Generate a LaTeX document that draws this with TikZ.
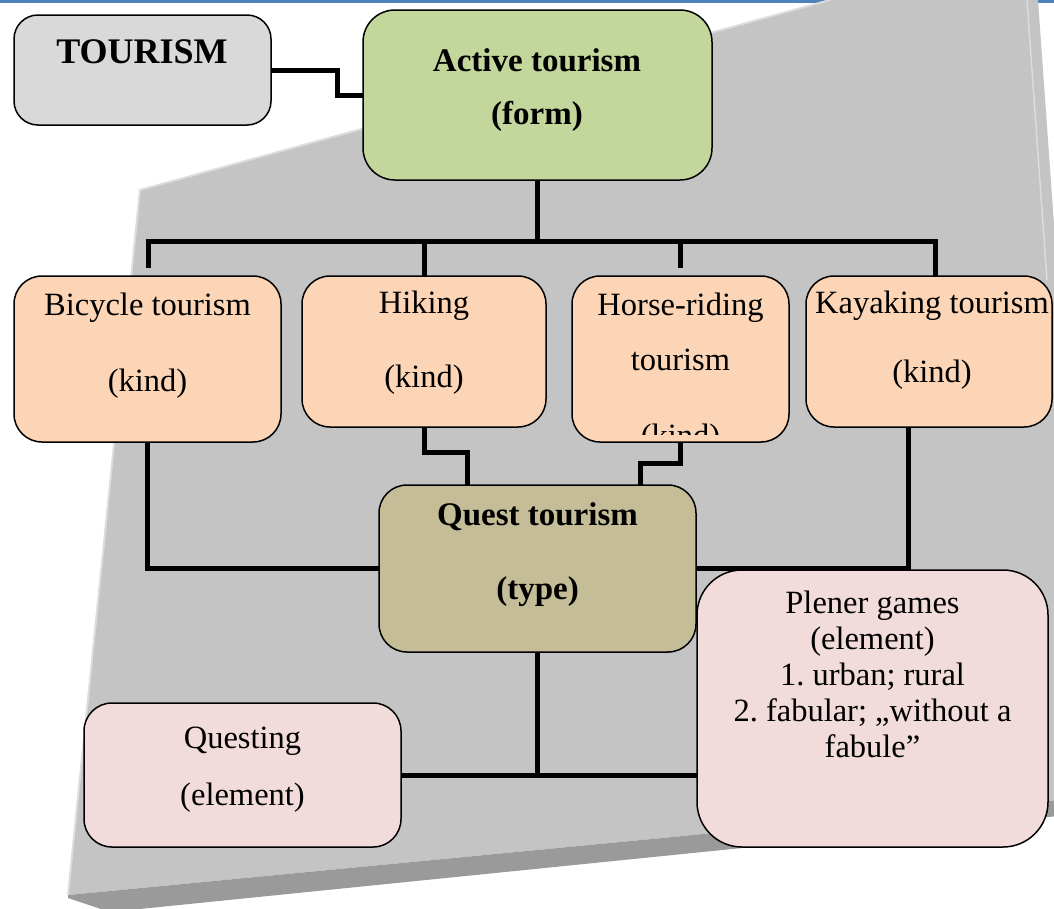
\documentclass[tikz,border=0pt]{standalone}
\usepackage{fontspec}
\setmainfont{Liberation Serif}
\frenchspacing
\definecolor{bgray}{HTML}{C4C4C4}
\definecolor{dgray}{HTML}{9A9A9A}
\definecolor{lgray}{HTML}{DCDCDC}
\definecolor{topblue}{HTML}{4F81BD}
\definecolor{cTour}{HTML}{D9D9D9}
\definecolor{cForm}{HTML}{C3D69B}
\definecolor{cKind}{HTML}{FBD5B5}
\definecolor{cType}{HTML}{C4BD97}
\definecolor{cElem}{HTML}{F2DCDB}
\pgfdeclarelayer{back}
\pgfdeclarelayer{mid}
\pgfsetlayers{back,mid,main}
\begin{document}
\begin{tikzpicture}[x=1pt,y=-1pt,
  box/.style={draw=black, line width=1.5pt, rounded corners=28pt, inner sep=0pt, outer sep=0pt},
  conn/.style={draw=black, line width=5pt, line cap=rect},
  txt/.style={inner sep=0pt, anchor=base, font=\fontsize{32.5}{36}\selectfont},
  btxt/.style={inner sep=0pt, anchor=base, font=\fontsize{33}{38}\selectfont\bfseries}]
\useasboundingbox (0,0) rectangle (1054,908);
% background
\begin{pgfonlayer}{back}
\fill[topblue] (0,0) rectangle (1054,3);
\fill[bgray] (140,190) -- (830,0) -- (1038,0) -- (1058,280) -- (1058,800) -- (68,895) -- cycle;
\fill[dgray] (68,895) -- (1058,800) -- (1058,816) -- (110,912) -- (68,898) -- cycle;
\draw[lgray, line width=2pt] (68,895) -- (140,190) -- (830,0);
\draw[lgray, line width=1.5pt] (1027,0) -- (1047,280);
\end{pgfonlayer}
% coordinates
\coordinate (busL) at (148,241);
\coordinate (busR) at (935,241);
\coordinate (d1) at (148,265);
\coordinate (d3) at (680,265);
\coordinate (qh) at (467,452);
\coordinate (qr) at (640,463);
\coordinate (kd) at (908,427);
% boxes
\path (142.5,70) node[box, fill=cTour, minimum width=257pt, minimum height=110pt, rounded corners=24pt] (tourism) {};
\path (537.5,95) node[box, fill=cForm, minimum width=349pt, minimum height=170pt, rounded corners=32pt] (active) {};
\path (147.5,359) node[box, fill=cKind, minimum width=267pt, minimum height=166pt] (bicycle) {};
\path (424,351.5) node[box, fill=cKind, minimum width=244pt, minimum height=151pt] (hiking) {};
\path (680.5,359) node[box, fill=cKind, minimum width=217pt, minimum height=166pt] (horse) {};
\path (929,351.5) node[box, fill=cKind, minimum width=246pt, minimum height=151pt] (kayak) {};
\path (537.5,568.5) node[box, fill=cType, minimum width=317pt, minimum height=167pt] (quest) {};
\path (242.5,775) node[box, fill=cElem, minimum width=317pt, minimum height=144pt] (questing) {};
\path (872.5,708.5) node[box, fill=cElem, minimum width=351pt, minimum height=277pt, rounded corners=45pt] (plener) {};
% connectors
\begin{pgfonlayer}{mid}
\draw[conn] (tourism.east) -- ++(66,0) |- (active.west);
\draw[conn] (active.south) -- (active.south |- busL);
\draw[conn] (d1) -- (busL) -- (busR) -- (kayak.north -| busR);
\draw[conn] (hiking.north) -- (hiking.north |- busL);
\draw[conn] (d3) -- (d3 |- busL);
\draw[conn] (bicycle.south) |- (quest.west);
\draw[conn] (hiking.south) |- (qh) -- (quest.north -| qh);
\draw[conn] (horse.south -| d3) |- (qr) -- (quest.north -| qr);
\draw[conn] (kayak.south -| kd) |- (quest.east);
\draw[conn] (quest.south) -- (quest.south |- questing.east);
\draw[conn] (questing.east) -- (questing.east -| plener.west);
\end{pgfonlayer}
% texts
\node[btxt, font=\fontsize{36}{40}\selectfont\bfseries] (tT) at (142,63) {TOURISM};
\node[btxt] (tA1) at (537,71) {Active tourism};
\node[btxt] (tA2) at (537,124) {(form)};
\node[txt] (tB1) at (147.5,315) {Bicycle tourism};
\node[txt] (tB2) at (147.5,391) {(kind)};
\node[txt] (tH1) at (424,313) {Hiking};
\node[txt] (tH2) at (424,387) {(kind)};
\node[txt] (tR1) at (680.5,315) {Horse-riding};
\node[txt] (tR2) at (680.5,370) {tourism};
\begin{scope}
\clip (572,276) rectangle (789,434);
\node[txt] (tR3) at (680.5,446) {(kind)};
\end{scope}
\node[txt] (tK1) at (932,313) {Kayaking tourism};
\node[txt] (tK2) at (932,382) {(kind)};
\node[btxt] (tQ1) at (537.5,525) {Quest tourism};
\node[btxt] (tQ2) at (537.5,599) {(type)};
\node[txt] (tG1) at (242.5,748) {Questing};
\node[txt] (tG2) at (242.5,805) {(element)};
\node[txt] (tP1) at (872.5,613) {Plener games};
\node[txt] (tP2) at (872.5,649) {(element)};
\node[txt] (tP3) at (872.5,685) {1. urban; rural};
\node[txt] (tP4) at (872.5,721) {2. fabular; „without a};
\node[txt] (tP5) at (872.5,757) {fabule”};
\end{tikzpicture}
\end{document}
